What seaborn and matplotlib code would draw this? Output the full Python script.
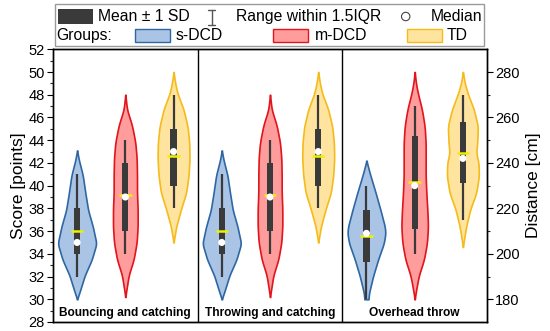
import numpy as np
import pandas as pd
import seaborn as sns
import matplotlib.pyplot as plt
from matplotlib.patches import Rectangle, Circle

groups = ["s-DCD", "m-DCD", "TD"]
tasks = ["Bouncing and catching", "Throwing and catching", "Overhead throw"]

# summary values per task (order s-DCD, m-DCD, TD)
bc_mean = [36.0, 39.2, 42.6]
bc_box_lo = [34.0, 36.0, 40.0]
bc_box_hi = [38.0, 42.0, 45.0]
bc_median = [35.0, 39.0, 43.0]
bc_whis_lo = [32.0, 34.0, 38.0]
bc_whis_hi = [41.0, 44.0, 48.0]

tc_mean = [36.0, 39.2, 42.6]
tc_box_lo = [34.0, 36.0, 40.0]
tc_box_hi = [38.0, 42.0, 45.0]
tc_median = [35.0, 39.0, 43.0]
tc_whis_lo = [32.0, 34.0, 38.0]
tc_whis_hi = [41.0, 44.0, 48.0]

ot_mean = [208.0, 231.5, 244.4]
ot_box_lo = [196.5, 211.0, 231.0]
ot_box_hi = [219.5, 252.0, 258.0]
ot_median = [209.0, 230.0, 242.0]
ot_whis_lo = [180.0, 200.0, 215.0]
ot_whis_hi = [230.0, 265.0, 270.0]

# violin outlines: levels and relative half-widths
bc_blue_y = [30.0, 30.6, 32.1, 33.5, 34.9, 36.4, 37.85, 39.3, 40.9, 42.3, 43.1]
bc_blue_w = [0, 7, 23, 44, 58, 47, 33, 25, 17, 5, 0]
bc_red_y = [30.2, 30.6, 32.1, 33.5, 35.0, 36.4, 37.9, 39.4, 40.9, 42.4, 43.8, 45.3, 46.7, 48.0]
bc_red_w = [0, 2, 10, 25, 34, 37, 37, 35, 35, 34, 30, 20, 5, 0]
bc_yel_y = [35.0, 36.4, 37.9, 39.4, 40.9, 42.4, 43.8, 45.2, 46.7, 48.1, 49.0, 50.0]
bc_yel_w = [0, 8, 22, 38, 45, 48, 47, 42, 30, 12, 5, 0]

ot_blue_y = [180, 182.9, 190.2, 197.5, 204.6, 209, 212, 219.3, 226.6, 235.4, 241]
ot_blue_w = [6, 8, 20, 35, 52, 57, 55, 42, 28, 10, 0]
ot_red_y = [180, 182.9, 190.2, 197.5, 204.9, 212.2, 219.5, 226.8, 234.2, 241.5, 248.8, 256.1, 263.4, 270.4, 274.8, 280]
ot_red_w = [0, 3, 12, 28, 37, 40, 38, 35, 33, 33, 33, 30, 22, 10, 4, 0]
ot_yel_y = [203, 207.8, 212.2, 219.5, 226.8, 234.2, 240.0, 244.4, 248.8, 256.1, 263.4, 270.4, 274.8, 280]
ot_yel_w = [0, 5, 10, 22, 40, 48, 47, 40, 43, 45, 33, 15, 6, 0]

fills = ["#a9c4e4", "#ff9c9c", "#ffe4a0"]
edges = ["#2f67a3", "#e2141c", "#f5bb1b"]
dark = "#3a3a3a"
WSCALE = 1 / 144.6

sns.set_theme(style="white")
plt.rcParams["font.family"] = ["Liberation Sans", "DejaVu Sans"]

fig = plt.figure(figsize=(5.5, 3.31), dpi=100)
ax = fig.add_axes([53 / 550, 1 - 322 / 331, 434 / 550, (322 - 49.3) / 331])
ax2 = ax.twinx()


def violin(a, x, ys, ws, fc, ec):
    ys = np.asarray(ys, float)
    ws = np.asarray(ws, float) * WSCALE
    yy = np.linspace(ys[0], ys[-1], 300)
    ww = np.interp(yy, ys, ws)
    k = np.ones(15) / 15
    pad = np.concatenate([np.full(7, ww[0]), ww, np.full(7, ww[-1])])
    ww = np.convolve(pad, k, mode="valid")
    a.fill_betweenx(yy, x - ww, x + ww, facecolor=fc, edgecolor=ec, lw=1.2, zorder=2)


def stats(a, xs, mean, blo, bhi, med, wlo, whi):
    for i, x in enumerate(xs):
        a.vlines(x, wlo[i], whi[i], color=dark, lw=1.6, zorder=3)
        a.bar(x, bhi[i] - blo[i], bottom=blo[i], width=0.13, color=dark,
              linewidth=0, zorder=4)
        a.hlines(mean[i], x - 0.13, x + 0.13, color="#eef000", lw=1.8, zorder=5)
    df = pd.DataFrame({"x": xs, "median": med})
    sns.scatterplot(data=df, x="x", y="median", ax=a, color="white", s=26,
                    edgecolor="none", zorder=6, legend=False)


bc_prof = [(bc_blue_y, bc_blue_w), (bc_red_y, bc_red_w), (bc_yel_y, bc_yel_w)]
ot_prof = [(ot_blue_y, ot_blue_w), (ot_red_y, ot_red_w), (ot_yel_y, ot_yel_w)]

for j in range(3):
    violin(ax, 0.5 + j, *bc_prof[j], fills[j], edges[j])
    violin(ax, 3.5 + j, *bc_prof[j], fills[j], edges[j])
    violin(ax2, 6.5 + j, *ot_prof[j], fills[j], edges[j])

stats(ax, [0.5, 1.5, 2.5], bc_mean, bc_box_lo, bc_box_hi, bc_median, bc_whis_lo, bc_whis_hi)
stats(ax, [3.5, 4.5, 5.5], tc_mean, tc_box_lo, tc_box_hi, tc_median, tc_whis_lo, tc_whis_hi)
stats(ax2, [6.5, 7.5, 8.5], ot_mean, ot_box_lo, ot_box_hi, ot_median, ot_whis_lo, ot_whis_hi)

ax.set_xlim(0, 9)
ax.set_ylim(28, 52)
ax2.set_ylim(170, 290)
ax.axvline(3, color="black", lw=1)
ax.axvline(6, color="black", lw=1)
for i, t in enumerate(tasks):
    ax.text(1.5 + 3 * i, 28.75, t, ha="center", va="center", fontsize=8.6,
            fontweight="bold", color="black")

ax.set_xticks([])
ax.set_yticks(np.arange(28, 53, 2))
ax.set_yticks(np.arange(28, 53, 1), minor=True)
ax2.set_yticks(np.arange(180, 281, 20))
ax2.set_yticks(np.arange(180, 281, 10), minor=True)
ax2.set_xlabel("")
ax.set_xlabel("")
for a in (ax, ax2):
    a.tick_params(axis="y", which="major", direction="out", length=4, width=0.8,
                  labelsize=10.5, colors="black", pad=2)
    a.tick_params(axis="y", which="minor", direction="out", length=2.5, width=0.8)
    for s in a.spines.values():
        s.set_color("black")
        s.set_linewidth(1)
ax.tick_params(axis="y", left=True, which="both")
ax2.tick_params(axis="y", right=True, which="both")
ax.set_ylabel("Score [points]", fontsize=12.5, color="black", labelpad=2)
ax2.set_ylabel("Distance [cm]", fontsize=12.5, color="black", labelpad=4)

# legend panel drawn in pixel coordinates
lg = fig.add_axes([0, 0, 1, 1], zorder=10)
lg.set_xlim(0, 550)
lg.set_ylim(331, 0)
lg.axis("off")
lg.add_patch(Rectangle((55, 4), 429, 42, facecolor="white", edgecolor="#9a9a9a", lw=1))
fs = 11.3
lg.add_patch(Rectangle((57.5, 9), 35, 15, facecolor=dark, edgecolor="none"))
lg.text(98, 16.5, "Mean ± 1 SD", fontsize=fs, va="center", color="black")
lg.plot([211.5, 211.5], [9.5, 24.5], color="#555555", lw=1)
lg.plot([208, 215], [9.5, 9.5], color="#555555", lw=1)
lg.plot([208, 215], [24.5, 24.5], color="#555555", lw=1)
lg.text(236.5, 16.5, "Range within 1.5IQR", fontsize=fs, va="center", color="black")
lg.add_patch(Circle((405.7, 16.5), 4.2, facecolor="white", edgecolor="#444444", lw=0.8))
lg.text(430.5, 16.5, "Median", fontsize=fs, va="center", color="black")
lg.text(56.5, 35.5, "Groups:", fontsize=fs, va="center", color="black")
patch_x = [134.5, 272.5, 407]
text_x = [175.5, 314.5, 446.5]
for j in range(3):
    lg.add_patch(Rectangle((patch_x[j], 28.5), 35, 13.5, facecolor=fills[j],
                           edgecolor=edges[j], lw=1))
    lg.text(text_x[j], 35.5, groups[j], fontsize=fs, va="center", color="black")

fig.savefig("out.png", dpi=100)
